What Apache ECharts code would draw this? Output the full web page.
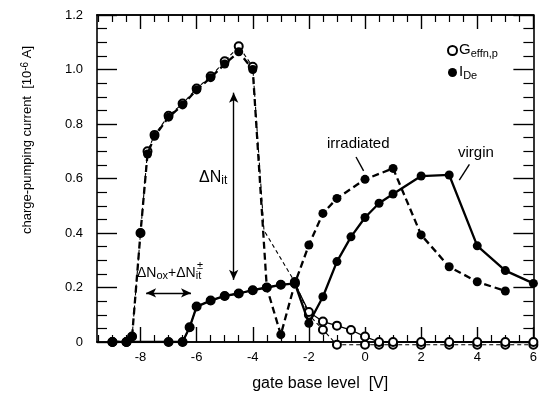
<!DOCTYPE html>
<html>
<head>
<meta charset="utf-8">
<script src="https://cdn.jsdelivr.net/npm/echarts@6/dist/echarts.min.js"></script>
<style>
  html, body { margin: 0; padding: 0; background: #fff; }
  #chart { width: 540px; height: 397px; }
</style>
</head>
<body>
<div id="chart"></div>
<script>
// values
const irrX = [-9, -8.5, -8.3, -8, -7.75, -7.5, -7, -6.5, -6, -5.5, -5, -4.5, -4, -3.5, -3, -2.5, -2, -1.5, -1, 0, 1, 2, 3, 4, 5];
const irrY = [0, 0, 0.02, 0.40, 0.69, 0.755, 0.825, 0.87, 0.925, 0.97, 1.02, 1.065, 1.0, 0.2, 0.027, 0.215, 0.356, 0.472, 0.527, 0.597, 0.637, 0.393, 0.276, 0.221, 0.187];

const virgX = [-9, -8.5, -7, -6.5, -6.25, -6, -5.5, -5, -4.5, -4, -3.5, -3, -2.5, -2, -1.5, -1, -0.5, 0, 0.5, 1, 2, 3, 4, 5, 6];
const virgY = [0, 0, 0, 0, 0.054, 0.13, 0.152, 0.169, 0.178, 0.19, 0.2, 0.21, 0.215, 0.069, 0.166, 0.295, 0.386, 0.457, 0.509, 0.543, 0.609, 0.613, 0.353, 0.262, 0.215];

const gIrrX = [-9, -8.5, -8.3, -8, -7.75, -7.5, -7, -6.5, -6, -5.5, -5, -4.5, -4, -3.6, -2.5, -2, -1.5, -1, 0, 0.5, 1, 2, 3, 4, 5, 6];
const gIrrY = [0, 0, 0.02, 0.40, 0.70, 0.76, 0.83, 0.875, 0.93, 0.975, 1.03, 1.085, 1.01, 0.41, 0.22, 0.1, 0.045, -0.01, -0.01, -0.01, -0.01, -0.01, -0.01, -0.01, -0.01, -0.01];

const gVirgX = [-9, -8.5, -7, -6.5, -6.25, -6, -5.5, -5, -4.5, -4, -3.5, -3, -2.5, -2, -1.5, -1, -0.5, 0, 0.5, 1, 2, 3, 4, 5, 6];
const gVirgY = [0, 0, 0, 0, 0.054, 0.13, 0.152, 0.169, 0.178, 0.19, 0.2, 0.21, 0.215, 0.11, 0.075, 0.06, 0.044, 0.02, 0, 0, 0, 0, 0, 0, 0];

const xMajor = [-8, -6, -4, -2, 0, 2, 4, 6];
const xMinor = [-9.5, -9, -8.5, -7.5, -7, -6.5, -5.5, -5, -4.5, -3.5, -3, -2.5, -1.5, -1, -0.5, 0.5, 1, 1.5, 2.5, 3, 3.5, 4.5, 5, 5.5];

const FONT = "'Liberation Sans', Arial, Helvetica, sans-serif";

const pairs = (xs, ys) => xs.map((x, i) => [x, ys[i]]);

const chart = echarts.init(document.getElementById('chart'), null, { renderer: 'canvas' });

const frameLine = { show: true, onZero: false, lineStyle: { color: '#000', width: 1.6 } };

const xBase = {
	type: 'value',
	min: -9.55,
	max: 6,
	axisLine: frameLine,
	splitLine: { show: false },
};

const yBase = {
	type: 'value',
	min: 0,
	max: 1.2,
	interval: 0.2,
	axisLine: frameLine,
	splitLine: { show: false },
	axisTick: { show: true, inside: true, length: 20, lineStyle: { color: '#000', width: 1.4 } },
	minorTick: { show: true, splitNumber: 4, length: 10, lineStyle: { color: '#000', width: 1.2 } },
	minorSplitLine: { show: false },
};

const sub = { fontSize: 11, fontFamily: FONT, color: '#000', verticalAlign: 'bottom', lineHeight: 11, padding: [9, 0, 0, 0] };
const base = { fontSize: 15, fontFamily: FONT, color: '#000', verticalAlign: 'top', lineHeight: 17 };

// the crossing point sits on the kink of the dashed G line, no marker there in the figure
const gIrrSize = (v) => (v[0] > -3.9 && v[0] < -3 ? 0 : 8);

const option = {
	backgroundColor: '#fff',
	animation: false,
	grid: { left: 97, right: 3, top: 15, bottom: 55 },
	xAxis: [
		{
			...xBase,
			position: 'bottom',
			axisTick: { show: true, inside: true, length: 15, customValues: xMajor, lineStyle: { color: '#000', width: 1.4 } },
			axisLabel: {
				customValues: xMajor,
				margin: 9,
				color: '#000',
				fontSize: 13,
				fontFamily: FONT,
			},
			name: 'gate base level  [V]',
			nameLocation: 'middle',
			nameGap: 34,
			nameTextStyle: { color: '#000', fontSize: 16, fontFamily: FONT, padding: [0, 0, 0, 10] },
		},
		{
			...xBase,
			position: 'bottom',
			axisTick: { show: true, inside: true, length: 7, customValues: xMinor, lineStyle: { color: '#000', width: 1.2 } },
			axisLabel: { show: false },
		},
		{
			...xBase,
			position: 'top',
			axisTick: { show: true, inside: true, length: 14, customValues: xMajor, lineStyle: { color: '#000', width: 1.4 } },
			axisLabel: { show: false },
		},
		{
			...xBase,
			position: 'top',
			axisTick: { show: true, inside: true, length: 7, customValues: xMinor, lineStyle: { color: '#000', width: 1.2 } },
			axisLabel: { show: false },
		},
	],
	yAxis: [
		{
			...yBase,
			position: 'left',
			axisLabel: {
				margin: 14,
				color: '#000',
				fontSize: 13,
				fontFamily: FONT,
				formatter: (v) => (v === 0 ? '0' : v.toFixed(1)),
			},
		},
		{
			...yBase,
			position: 'right',
			axisLabel: { show: false },
		},
	],
	legend: {
		orient: 'vertical',
		left: 442,
		top: 34,
		itemWidth: 9,
		itemHeight: 9,
		itemGap: 2,
		data: [
			{ name: 'Geffn', icon: 'emptyCircle' },
			{ name: 'IDe', icon: 'circle' },
		],
		formatter: (name) => (name === 'Geffn' ? '{b|G}{s|effn,p}' : '{b|I}{s|De}'),
		textStyle: { padding: [0, 0, 0, -3], rich: { b: base, s: sub } },
	},
	series: [
		{
			name: 'Geffn',
			type: 'line',
			clip: false,
			data: pairs(gIrrX, gIrrY),
			symbol: 'emptyCircle',
			symbolSize: gIrrSize,
			itemStyle: { color: '#000', borderColor: '#000', borderWidth: 1 },
			lineStyle: { color: '#000', width: 1.1, type: [4, 3] },
			z: 2,
		},
		{
			name: 'Geffn',
			type: 'line',
			clip: false,
			data: pairs(gVirgX, gVirgY),
			symbol: 'emptyCircle',
			symbolSize: 8,
			itemStyle: { color: '#000', borderColor: '#000', borderWidth: 1 },
			lineStyle: { color: '#000', width: 1.3 },
			z: 2,
		},
		{
			name: 'IDe',
			type: 'line',
			data: pairs(irrX, irrY),
			symbol: 'circle',
			symbolSize: 9,
			itemStyle: { color: '#000' },
			lineStyle: { color: '#000', width: 2.3, type: [7, 4] },
			z: 3,
			markLine: {
				silent: true,
				animation: false,
				label: { show: false },
				symbol: ['arrow', 'arrow'],
				symbolSize: [7, 10],
				lineStyle: { color: '#000', width: 1.4, type: 'solid' },
				data: [
					[{ coord: [-4.68, 0.915] }, { coord: [-4.68, 0.228] }],
					[{ coord: [-7.8, 0.18] }, { coord: [-6.2, 0.18] }],
					[{ coord: [-0.32, 0.679], symbol: 'none' }, { coord: [-0.05, 0.628], symbol: 'none' }],
					[{ coord: [3.72, 0.652], symbol: 'none' }, { coord: [3.36, 0.594], symbol: 'none' }],
				],
			},
		},
		{
			name: 'IDe',
			type: 'line',
			data: pairs(virgX, virgY),
			symbol: 'circle',
			symbolSize: 9,
			itemStyle: { color: '#000' },
			lineStyle: { color: '#000', width: 2.3 },
			z: 3,
		},
	],
	graphic: [
		{
			type: 'text',
			x: 27,
			y: 140,
			rotation: Math.PI / 2,
			style: {
				text: '{t|charge-pumping current  [10}{u|-6}{t| A]}',
				align: 'center',
				verticalAlign: 'middle',
				rich: {
					t: { fontSize: 13, fontFamily: FONT, color: '#000', verticalAlign: 'bottom', lineHeight: 13, padding: [5, 0, 0, 0] },
					u: { fontSize: 10, fontFamily: FONT, color: '#000', verticalAlign: 'top', lineHeight: 10 },
				},
			},
		},
		{
			type: 'text',
			x: 327,
			y: 136,
			style: { text: 'irradiated', fontSize: 15, fontFamily: FONT, fill: '#000' },
		},
		{
			type: 'text',
			x: 458,
			y: 145,
			style: { text: 'virgin', fontSize: 15, fontFamily: FONT, fill: '#000' },
		},
		{
			type: 'text',
			x: 199,
			y: 170,
			style: {
				text: '{b|ΔN}{s|it}',
				rich: { b: { ...base, fontSize: 16 }, s: { ...sub, fontSize: 12 } },
			},
		},
		{
			type: 'text',
			x: 137,
			y: 266,
			style: {
				text: '{b|ΔN}{s|ox}{b|+ΔN}{s|it}',
				rich: {
					b: { fontSize: 14, fontFamily: FONT, color: '#000', verticalAlign: 'top', lineHeight: 15 },
					s: { fontSize: 11, fontFamily: FONT, color: '#000', verticalAlign: 'bottom', lineHeight: 11, padding: [7, 0, 0, 0] },
				},
			},
		},
		{
			type: 'text',
			x: 197,
			y: 260,
			style: { text: '±', fontSize: 11, fontFamily: FONT, fill: '#000' },
		},
	],
};

chart.setOption(option);
</script>
</body>
</html>
